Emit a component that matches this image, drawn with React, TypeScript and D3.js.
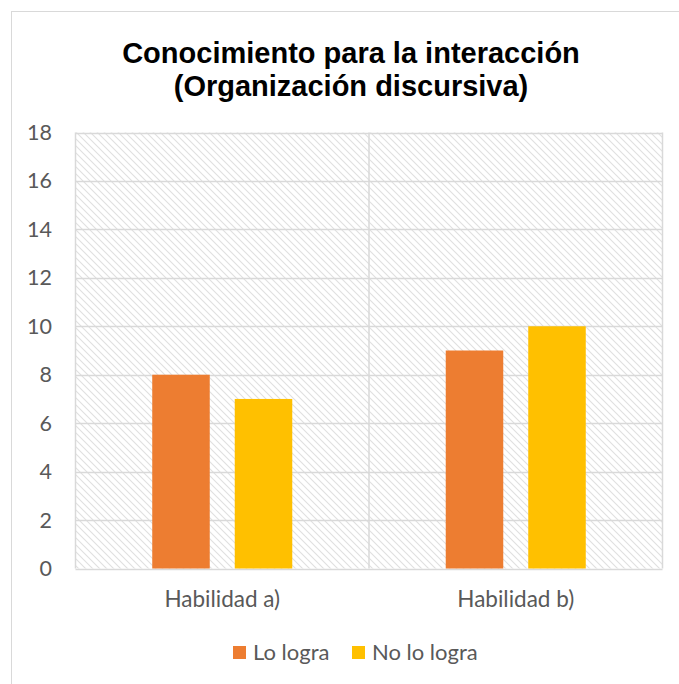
import React from "react";
import * as d3 from "d3";

const categories = ["Habilidad a)", "Habilidad b)"];
const seriesNames = ["Lo logra", "No lo logra"];
const loLogra = [8, 9];
const noLoLogra = [7, 10];
const yTicks = [0, 2, 4, 6, 8, 10, 12, 14, 16, 18];
const titleLines = ["Conocimiento para la interacción", "(Organización discursiva)"];

const colors = ["#ED7D31", "#FFC000"];
const W = 679;
const H = 684;
const plot = { left: 75.5, right: 662.5, top: 132.5, bottom: 568.5 };
const tickFont = "Lato, 'Open Sans', sans-serif";

export default function App() {
  const x0 = d3.scaleBand<string>().domain(categories).range([plot.left, plot.right]).paddingInner(0).paddingOuter(0);
  const x1 = d3.scaleBand<string>().domain(seriesNames).range([0, x0.bandwidth()]).paddingInner(0.303).paddingOuter(0.93);
  const y = d3.scaleLinear().domain([0, 18]).range([plot.bottom, plot.top]);
  const values = [loLogra, noLoLogra];

  return (
    <div style={{ position: "absolute", left: 0, top: 0, width: W, height: H, overflow: "hidden" }}>
      <svg width={W} height={H} style={{ display: "block" }}>
        <defs>
          <pattern id="hatch" patternUnits="userSpaceOnUse" width={7} height={7}>
            <rect width={7} height={7} fill="#ffffff" />
            <path d="M-2,-2 L9,9 M-2,5 L2,9 M5,-2 L9,2" stroke="#e0e0e0" strokeWidth={1.1} />
          </pattern>
        </defs>
        <rect x={0} y={0} width={W} height={H} fill="#ffffff" />
        <rect x={11.5} y={11.5} width={720} height={720} fill="#ffffff" stroke="#d9d9d9" strokeWidth={1} />
        <text textAnchor="middle" fontFamily="'Liberation Sans', Arial, sans-serif" fontWeight="bold" fontSize={29} fill="#000000">
          {titleLines.map((t, i) => (
            <tspan key={i} x={351} y={63 + i * 33}>{t}</tspan>
          ))}
        </text>
        <rect x={plot.left} y={plot.top} width={plot.right - plot.left} height={plot.bottom - plot.top} fill="url(#hatch)" />
        {yTicks.map((t) => (
          <line key={"g" + t} x1={plot.left} x2={plot.right} y1={Math.round(y(t)) + 0.5} y2={Math.round(y(t)) + 0.5} stroke="#d9d9d9" strokeWidth={1.5} />
        ))}
        {categories.map((c) => (
          <line key={"v" + c} x1={x0(c)!} x2={x0(c)!} y1={plot.top} y2={plot.bottom} stroke="#d9d9d9" strokeWidth={1.5} />
        ))}
        <line x1={plot.right} x2={plot.right} y1={plot.top} y2={plot.bottom} stroke="#d9d9d9" strokeWidth={1.5} />
        {categories.map((c, ci) =>
          seriesNames.map((s, si) => {
            const v = values[si][ci];
            return (
              <rect key={c + s} x={x0(c)! + x1(s)!} y={y(v)} width={x1.bandwidth()} height={y(0) - y(v)} fill={colors[si]} />
            );
          })
        )}
        {yTicks.map((t) => (
          <text key={"t" + t} x={52} y={y(t)} dy="0.35em" textAnchor="end" fontFamily={tickFont} fontSize={21.5} fill="#595959">
            {t}
          </text>
        ))}
        {categories.map((c) => (
          <text key={"c" + c} x={x0(c)! + x0.bandwidth() / 2} y={607} textAnchor="middle" fontFamily={tickFont} fontSize={22.5} fill="#595959">
            {c}
          </text>
        ))}
        <g>
          {seriesNames.map((s, i) => {
            const lx = [233, 352][i];
            return (
              <g key={"l" + s}>
                <rect x={lx} y={646} width={13} height={13} fill={colors[i]} />
                <text x={lx + 20} y={660} fontFamily={tickFont} fontSize={22} fill="#595959">{s}</text>
              </g>
            );
          })}
        </g>
      </svg>
    </div>
  );
}
